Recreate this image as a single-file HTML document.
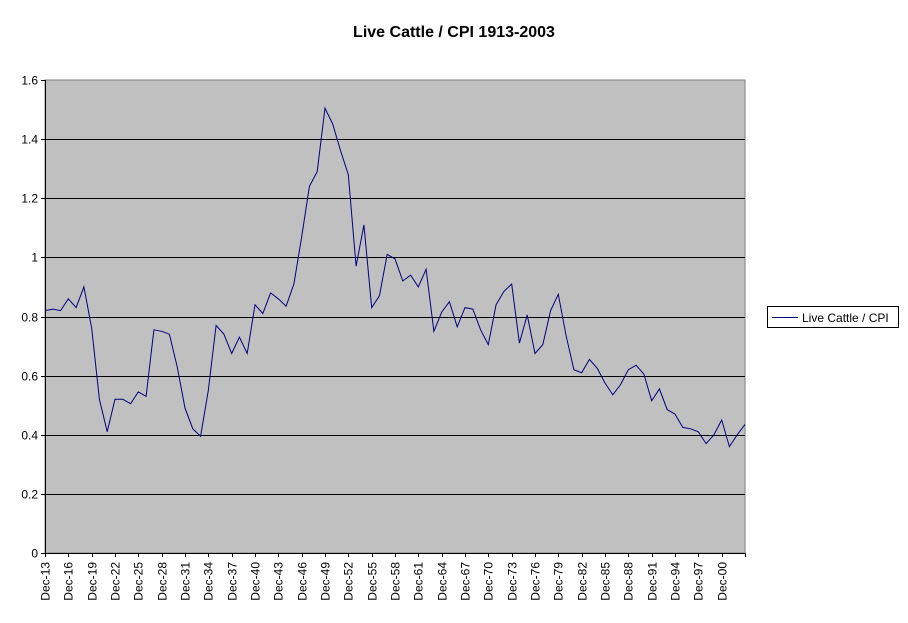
<!DOCTYPE html>
<html><head><style>body{margin:0;background:#fff}svg{display:block}</style></head>
<body>
<svg id="s" width="908" height="623" xmlns="http://www.w3.org/2000/svg" font-family="Liberation Sans, Arial, sans-serif">
<rect width="908" height="623" fill="#fff"/>
<text x="454" y="37" font-size="16" font-weight="bold" text-anchor="middle">Live Cattle / CPI 1913-2003</text>
<rect x="45" y="80" width="700" height="473" fill="#c0c0c0" stroke="#808080" stroke-width="1"/>
<g id="grid" stroke="#000" stroke-width="1"></g>
<g id="yl" font-size="12" text-anchor="end"></g>
<g id="xl" font-size="12"></g>
<polyline id="ln" fill="none" stroke="#000080" stroke-width="1"/>
<line x1="45.5" y1="80" x2="45.5" y2="553" stroke="#000"/>
<line x1="45" y1="553.5" x2="745" y2="553.5" stroke="#000"/>
<rect x="767.5" y="306.5" width="131" height="21" fill="#fff" stroke="#000"/>
<line x1="772" y1="317.5" x2="798" y2="317.5" stroke="#000080"/>
<text x="802" y="322" font-size="12">Live Cattle / CPI</text>
</svg>
<script>
var v=[.82,.825,.82,.86,.83,.90,.76,.52,.41,.52,.52,.505,.545,.53,.755,.75,.74,.63,.49,.42,.395,.55,.77,.74,.675,.73,.675,.84,.81,.88,.86,.835,.91,1.07,1.24,1.29,1.505,1.45,1.36,1.28,.97,1.11,.83,.87,1.01,.995,.92,.94,.90,.96,.75,.815,.85,.765,.83,.825,.755,.705,.84,.885,.91,.71,.805,.675,.705,.82,.875,.735,.62,.61,.655,.625,.575,.535,.57,.62,.635,.605,.515,.555,.485,.47,.425,.42,.41,.37,.40,.45,.36,.40,.435];
var ns="http://www.w3.org/2000/svg";
function X(i){return 45+i*700/90}function Y(t){return 553-t*473/1.6}
document.getElementById('ln').setAttribute('points',v.map(function(t,i){return X(i).toFixed(1)+','+Y(t).toFixed(1)}).join(' '));
var g=document.getElementById('grid'),yl=document.getElementById('yl'),xl=document.getElementById('xl');
for(var k=0;k<=8;k++){var y=Math.round(Y(k*0.2))+0.5;
 if(k>0&&k<8){var l=document.createElementNS(ns,'line');l.setAttribute('x1',45);l.setAttribute('x2',745);l.setAttribute('y1',y);l.setAttribute('y2',y);g.appendChild(l);}
 var tk=document.createElementNS(ns,'line');tk.setAttribute('x1',41);tk.setAttribute('x2',45);tk.setAttribute('y1',y);tk.setAttribute('y2',y);g.appendChild(tk);
 var t=document.createElementNS(ns,'text');t.setAttribute('x',38);t.setAttribute('y',y+4);
 var lab=(k*0.2).toFixed(1);if(k==0)lab='0';if(k==5)lab='1';t.textContent=lab;yl.appendChild(t);}
for(var i=0;i<=90;i+=3){var x=Math.round(X(i))+0.5;
 var tk=document.createElementNS(ns,'line');tk.setAttribute('x1',x);tk.setAttribute('x2',x);tk.setAttribute('y1',553);tk.setAttribute('y2',557);g.appendChild(tk);
 if(i<90){var yr=(13+i)%100;var t=document.createElementNS(ns,'text');
 t.setAttribute('transform','translate('+(x+4)+',562) rotate(-90)');t.setAttribute('text-anchor','end');
 t.textContent='Dec-'+(yr<10?'0'+yr:yr);xl.appendChild(t);}}
</script>
</body></html>
